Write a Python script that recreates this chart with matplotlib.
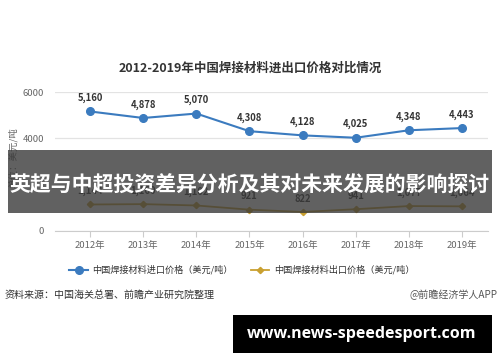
import matplotlib.pyplot as plt
from matplotlib.patches import Rectangle

plt.rcParams['font.family'] = ['Noto Sans CJK SC', 'DejaVu Sans']

# data
years = ['2012年', '2013年', '2014年', '2015年', '2016年', '2017年', '2018年', '2019年']
import_price = [5160, 4878, 5070, 4308, 4128, 4025, 4348, 4443]
export_price = [1144, 1160, 1102, 921, 822, 941, 1077, 1064]
yticks = [0, 4000, 6000]

c_imp = '#3b7bbf'
c_exp = '#c9a030'
grey = '#666666'

fig = plt.figure(figsize=(5, 3.62), dpi=100)
ax = fig.add_axes([55/500, 1-231/362, 433/500, 139/362])
x = list(range(len(years)))

ax.plot(x, import_price, '-o', color=c_imp, lw=1.5, ms=5.5, zorder=3,
        label='中国焊接材料进口价格（美元/吨）')
ax.plot(x, export_price, '-D', color=c_exp, lw=1.3, ms=3.2, zorder=3,
        label='中国焊接材料出口价格（美元/吨）')
for xi, v in zip(x, import_price):
    ax.annotate(f'{v:,}', (xi, v), xytext=(0, 6), textcoords='offset points',
                ha='center', va='bottom', fontsize=6.8, color='#333333',
                fontweight='bold')
for xi, v in zip(x, export_price):
    ax.annotate(f'{v:,}', (xi, v), xytext=(0, 6), textcoords='offset points',
                ha='center', va='bottom', fontsize=6.8, color='#333333',
                fontweight='bold')

ax.set_xlim(-0.66, 7.49)
ax.set_ylim(0, 6000)
ax.set_yticks(yticks)
ax.set_xticks(x)
ax.set_xticklabels(years)
ax.grid(axis='y', color='#e3e3e3', lw=0.9)
ax.set_axisbelow(True)
for s in ['top', 'right', 'left']:
    ax.spines[s].set_visible(False)
ax.spines['bottom'].set_color('#cccccc')
ax.tick_params(axis='y', length=0, labelsize=6.8, labelcolor=grey, pad=8)
ax.tick_params(axis='x', length=4, color='#cccccc', labelsize=6.8,
               labelcolor=grey, pad=3)
ax.set_ylabel('单位：美元/吨', fontsize=6.8, color=grey)
ax.yaxis.set_label_coords(-0.085, 0.53)

fig.text(0.5, 1-68/362, '2012-2019年中国焊接材料进出口价格对比情况',
         ha='center', va='center', fontsize=9, fontweight='bold', color='#333333')

fig.legend(loc='center', bbox_to_anchor=(242/500, 1-270/362), ncol=2,
           frameon=False, fontsize=6.6, handlelength=2.0, columnspacing=2.0,
           handletextpad=0.5, labelcolor='#333333')

fig.text(5/500, 1-295/362, '资料来源：中国海关总署、前瞻产业研究院整理',
         ha='left', va='center', fontsize=7.2, color='#333333')
fig.text(497/500, 1-295/362, '@前瞻经济学人APP',
         ha='right', va='center', fontsize=7.2, color='#555555')

# overlay banner
fig.add_artist(Rectangle((8/500, 1-213/362), 484/500, 63/362,
                         transform=fig.transFigure, facecolor='#3a3a3a',
                         alpha=0.8, edgecolor='none', zorder=10))
fig.text(250/500, 1-185/362, '英超与中超投资差异分析及其对未来发展的影响探讨',
         ha='center', va='center', fontsize=15, fontweight='bold',
         color='white', zorder=11)

# url box
fig.add_artist(Rectangle((233/500, 1-353/362), 259/500, 38/362,
                         transform=fig.transFigure, facecolor='black',
                         edgecolor='none', zorder=10))
fig.text(362/500, 1-334/362, 'www.news-speedesport.com', ha='center',
         va='center', fontsize=11.5, fontweight='bold', color='white',
         family=['Open Sans', 'DejaVu Sans'], zorder=11)

fig.savefig('out.png', dpi=100)
